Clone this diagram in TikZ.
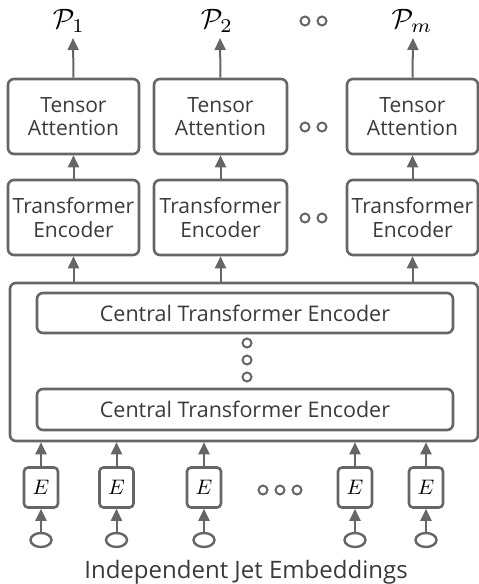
\documentclass[tikz,border=0pt]{standalone}
\usepackage{fontspec}
\setmainfont{Open Sans}
\usetikzlibrary{arrows.meta,shapes.geometric}
\definecolor{lc}{HTML}{666666}
\definecolor{tc}{HTML}{3A3A3A}
\begin{document}
\begin{tikzpicture}[x=1pt,y=-1pt,
  box/.style={draw=lc,line width=2.6pt,rounded corners=6pt,text=tc,align=center,inner sep=0pt},
  ebox/.style={draw=lc,line width=2.6pt,rounded corners=4pt,minimum width=34pt,minimum height=40pt,inner sep=0pt},
  arr/.style={draw=lc,line width=2pt,-{Triangle[length=12pt,width=11pt]}},
  dot/.style={draw=lc,line width=2pt,circle,minimum size=9pt,inner sep=0pt},
  inp/.style={draw=lc,line width=2.4pt,ellipse,minimum width=21pt,minimum height=14pt,inner sep=0pt},
  lab/.style={font=\fontsize{21}{23.5}\selectfont},
  clab/.style={font=\fontsize{21.5}{24}\selectfont},
  plab/.style={inner sep=0pt}]
\useasboundingbox (0,0) rectangle (479,584);
% top labels
\node[plab] (p1) at (69,21) {\scalebox{2.8}{$\mathcal{P}_1$}};
\node[plab] (p2) at (217,21) {\scalebox{2.8}{$\mathcal{P}_2$}};
\node[plab] (pm) at (412,21) {\scalebox{2.8}{$\mathcal{P}_m$}};
\coordinate (t1) at (73,38);
\coordinate (t2) at (220,38);
\coordinate (tm) at (413,38);
% tensor attention
\node[box,lab,minimum width=131pt,minimum height=75pt] (ta1) at (73.5,116.5) {Tensor\\Attention};
\node[box,lab,minimum width=133pt,minimum height=75pt] (ta2) at (220.5,116.5) {Tensor\\Attention};
\node[box,lab,minimum width=131pt,minimum height=75pt] (ta3) at (412.5,116.5) {Tensor\\Attention};
% transformer encoder
\node[box,lab,minimum width=131pt,minimum height=75pt] (te1) at (73.5,217.5) {Transformer\\Encoder};
\node[box,lab,minimum width=133pt,minimum height=75pt] (te2) at (220.5,217.5) {Transformer\\Encoder};
\node[box,lab,minimum width=131pt,minimum height=75pt] (te3) at (412.5,217.5) {Transformer\\Encoder};
% central
\node[box,minimum width=468pt,minimum height=158pt] (cb) at (244,362) {};
\node[box,clab,minimum width=416pt,minimum height=40pt] (c1) at (245,313) {Central Transformer Encoder};
\node[box,clab,minimum width=416pt,minimum height=41pt] (c2) at (245,409.5) {Central Transformer Encoder};
% arrows top
\draw[arr] (ta1.north) -- (t1);
\draw[arr] (ta2.north) -- (t2);
\draw[arr] (ta3.north) -- (tm);
\draw[arr] (te1.north) -- (ta1.south);
\draw[arr] (te2.north) -- (ta2.south);
\draw[arr] (te3.north) -- (ta3.south);
\draw[arr] (cb.north -| te1) -- (te1.south);
\draw[arr] (cb.north -| te2) -- (te2.south);
\draw[arr] (cb.north -| te3) -- (te3.south);
% dots
\node[dot] (d1) at (305,21) {};
\node[dot] (d2) at (322,21) {};
\node[dot] (d3) at (305,127) {};
\node[dot] (d4) at (322,127) {};
\node[dot] (d5) at (305,218) {};
\node[dot] (d6) at (322,218) {};
\node[dot] (v1) at (247,343) {};
\node[dot] (v2) at (247,360) {};
\node[dot] (v3) at (247,377) {};
\node[dot] (h1) at (263,490) {};
\node[dot] (h2) at (280,490) {};
\node[dot] (h3) at (297,490) {};
% E boxes
\foreach \i/\x in {1/41,2/116.5,3/204,4/355,5/426}{
  \node[ebox] (e\i) at (\x,487.5) {};
  \node[inner sep=0pt] (el\i) at (e\i.center) {\scalebox{2.1}{$E$}};
  \node[inp] (i\i) at (\x,540) {};
  \draw[arr] (i\i.north) -- (e\i.south);
  \draw[arr] (e\i.north) -- (cb.south -| e\i);
}
\node[text=tc,font=\fontsize{24}{27}\selectfont] (cap) at (246,572) {Independent Jet Embeddings};
\end{tikzpicture}
\end{document}
